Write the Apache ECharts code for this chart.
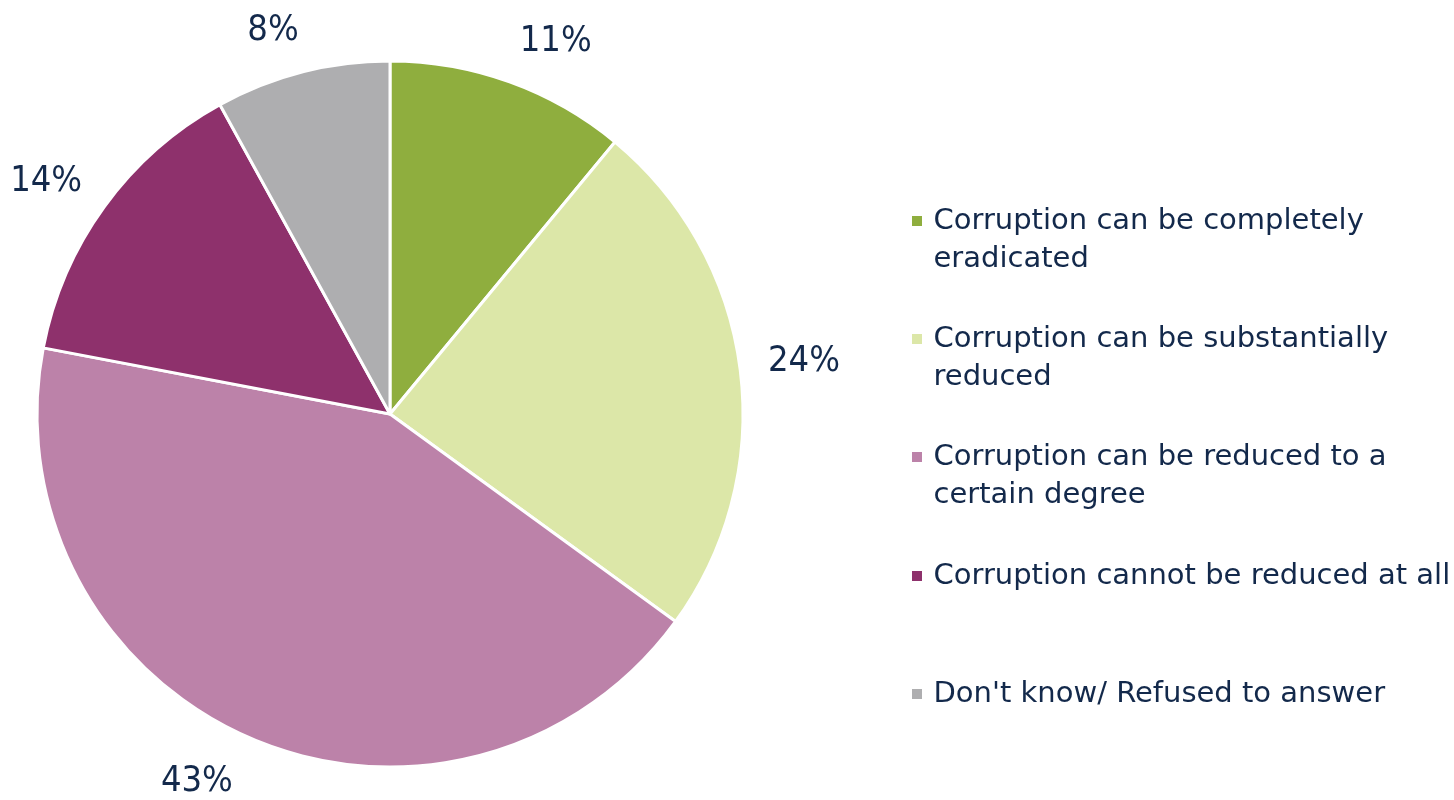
<!DOCTYPE html>
<html>
<head>
<meta charset="utf-8">
<script src="https://cdn.jsdelivr.net/npm/echarts@6/dist/echarts.min.js"></script>
<style>
  html, body { margin: 0; padding: 0; background: #fff; }
  #main { width: 1454px; height: 800px; }
</style>
</head>
<body>
<div id="main"></div>
<script>
const categories = [
  'Corruption can be completely\neradicated',
  'Corruption can be substantially\nreduced',
  'Corruption can be reduced to a\ncertain degree',
  'Corruption cannot be reduced at all',
  "Don't know/ Refused to answer"
];
const values = [11, 24, 43, 14, 8];
const colors = ['#8fae3e', '#dce7a8', '#bc82a9', '#8e316c', '#aeaeb0'];

const textColor = '#13294b';
const labelFont = '"DejaVu Sans Condensed", "DejaVu Sans", sans-serif';
const legendFont = '"DejaVu Sans", sans-serif';

// small nudges so the percentages sit centred off each slice
const labelNudge = [[-5, -12], [-7, -4], [0, 16], [7, -7], [9, -12]];

const chart = echarts.init(document.getElementById('main'));

// one legend per entry so the rows keep an even spacing
const rowCentres = [221, 339, 457, 576, 694];
const lineH = 38;
const legends = categories.map((name, i) => {
  const twoLines = name.indexOf('\n') >= 0;
  return {
    data: [name],
    left: 910,
    top: rowCentres[i] - lineH / 2 - (twoLines ? lineH : 0),
    padding: 0,
    itemWidth: 23,
    itemHeight: 12,
    icon: 'path://M0,0h10v10h-10z',
    selectedMode: false,
    // a leading blank line keeps the square level with the first line
    formatter: n => (n.indexOf('\n') >= 0 ? '\n' + n : n),
    textStyle: {
      color: textColor,
      fontFamily: legendFont,
      fontSize: 29,
      lineHeight: lineH
    }
  };
});

chart.setOption({
  animation: false,
  color: colors,
  legend: legends,
  series: [{
    type: 'pie',
    center: [390, 414],
    radius: 353,
    startAngle: 90,
    clockwise: true,
    avoidLabelOverlap: false,
    itemStyle: { borderColor: '#fff', borderWidth: 3 },
    label: {
      show: true,
      position: 'outside',
      formatter: '{c}%',
      color: textColor,
      fontFamily: labelFont,
      fontSize: 36
    },
    labelLine: { show: false, length: 30, length2: 0 },
    labelLayout: p => ({ dx: labelNudge[p.dataIndex][0], dy: labelNudge[p.dataIndex][1] }),
    data: categories.map((name, i) => ({ name: name, value: values[i] }))
  }]
});
</script>
</body>
</html>
